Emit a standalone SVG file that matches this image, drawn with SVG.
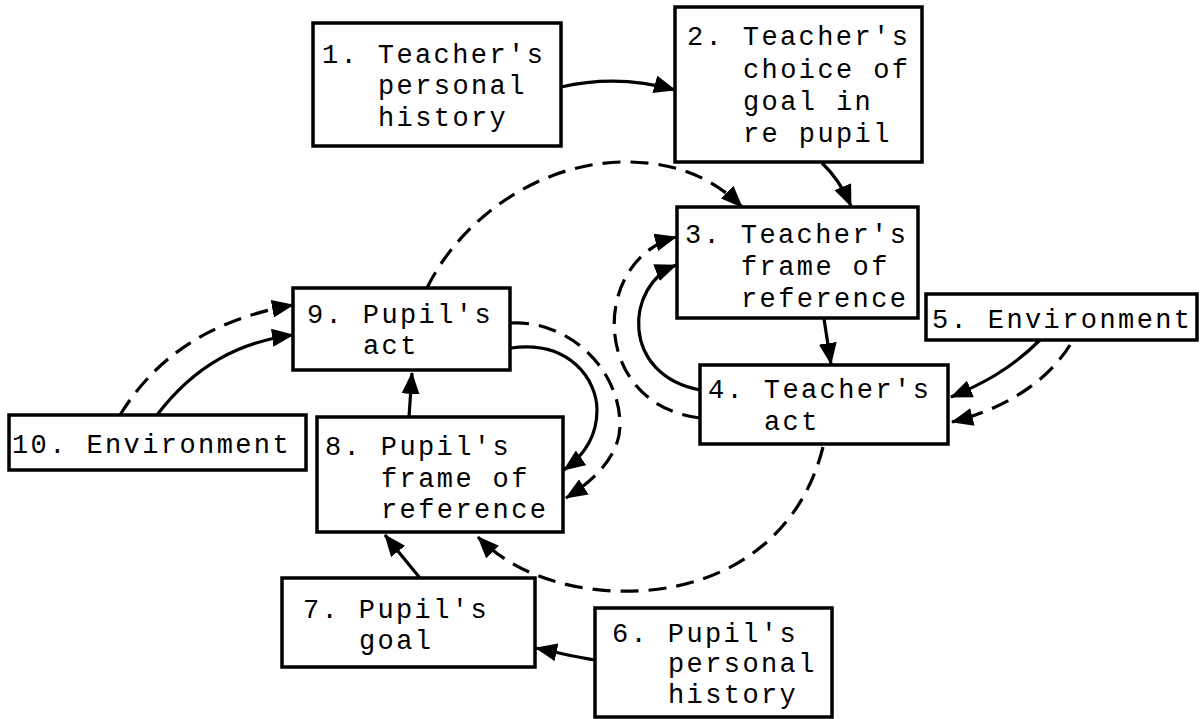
<svg xmlns="http://www.w3.org/2000/svg" width="1200" height="719" viewBox="0 0 1200 719">
<style>
.box{fill:#fff;stroke:#000;stroke-width:3.5}
.t{font-family:"Courier New","Liberation Mono",monospace;font-size:27px;letter-spacing:2.4px;fill:#000}
.c{fill:none;stroke:#000;stroke-width:3.2}
.d{stroke-dasharray:18 10}
</style>
<defs>
<marker id="ah" markerUnits="userSpaceOnUse" markerWidth="22" markerHeight="18" refX="21" refY="9" orient="auto">
<path d="M0,0 L22,9 L0,18 z" fill="#000"/>
</marker>
</defs>
<rect width="1200" height="719" fill="#fff"/>
<g id="connectors">
<path class="c" d="M561,87 C600,78 640,80 675,90" marker-end="url(#ah)"/>
<path class="c" d="M822,163 Q840,180 851,206" marker-end="url(#ah)"/>
<path class="c d" d="M427,288 C460,220 540,160 630,162 C680,163 715,180 742,207" marker-end="url(#ah)"/>
<path class="c" d="M824,319 L831,364" marker-end="url(#ah)"/>
<path class="c" d="M700,390 C620,375 625,285 676,265" marker-end="url(#ah)"/>
<path class="c d" d="M700,418 C590,405 590,260 676,237" marker-end="url(#ah)"/>
<path class="c" d="M1040,340 C1010,370 980,385 951,397" marker-end="url(#ah)"/>
<path class="c d" d="M1070,345 C1045,385 1000,410 952,422" marker-end="url(#ah)"/>
<path class="c d" d="M823,447 C800,540 720,595 615,591 C560,589 510,570 478,537" marker-end="url(#ah)"/>
<path class="c" d="M511,348 C570,340 597,380 597,410 C597,435 585,455 564,470" marker-end="url(#ah)"/>
<path class="c d" d="M511,323 C570,320 620,370 620,425 C620,455 595,480 566,498" marker-end="url(#ah)"/>
<path class="c" d="M409,417 L412,373" marker-end="url(#ah)"/>
<path class="c" d="M157,415 C195,365 240,342 293,335" marker-end="url(#ah)"/>
<path class="c d" d="M120,415 C160,350 220,318 293,305" marker-end="url(#ah)"/>
<path class="c" d="M420,578 Q405,560 385,535" marker-end="url(#ah)"/>
<path class="c" d="M595,660 C575,657 555,652 536,648" marker-end="url(#ah)"/>
</g>
<g id="n1"><rect class="box" x="313" y="23" width="248" height="123"/>
<text class="t" x="322" y="63">1. Teacher's</text><text class="t" x="378" y="94">personal</text><text class="t" x="378" y="126">history</text></g>
<g id="n2"><rect class="box" x="675" y="7" width="247" height="155"/>
<text class="t" x="687" y="45">2. Teacher's</text><text class="t" x="743" y="78">choice of</text><text class="t" x="743" y="110">goal in</text><text class="t" x="743" y="142">re pupil</text></g>
<g id="n3"><rect class="box" x="677" y="207" width="241" height="111"/>
<text class="t" x="685" y="243">3. Teacher's</text><text class="t" x="741" y="275">frame of</text><text class="t" x="741" y="307">reference</text></g>
<g id="n4"><rect class="box" x="700" y="365" width="248" height="79"/>
<text class="t" x="708" y="398">4. Teacher's</text><text class="t" x="764" y="430">act</text></g>
<g id="n5"><rect class="box" x="926" y="294" width="271" height="46"/>
<text class="t" x="932" y="328">5. Environment</text></g>
<g id="n6"><rect class="box" x="595" y="608" width="237" height="109"/>
<text class="t" x="612" y="642">6. Pupil's</text><text class="t" x="668" y="672">personal</text><text class="t" x="668" y="703">history</text></g>
<g id="n7"><rect class="box" x="282" y="578" width="253" height="89"/>
<text class="t" x="303" y="618">7. Pupil's</text><text class="t" x="359" y="649">goal</text></g>
<g id="n8"><rect class="box" x="317" y="417" width="246" height="115"/>
<text class="t" x="325" y="455">8. Pupil's</text><text class="t" x="381" y="487">frame of</text><text class="t" x="381" y="518">reference</text></g>
<g id="n9"><rect class="box" x="293" y="288" width="217" height="82"/>
<text class="t" x="307" y="323">9. Pupil's</text><text class="t" x="363" y="354">act</text></g>
<g id="n10"><rect class="box" x="9" y="415" width="297" height="55"/>
<text class="t" x="12" y="453">10. Environment</text></g>
</svg>
